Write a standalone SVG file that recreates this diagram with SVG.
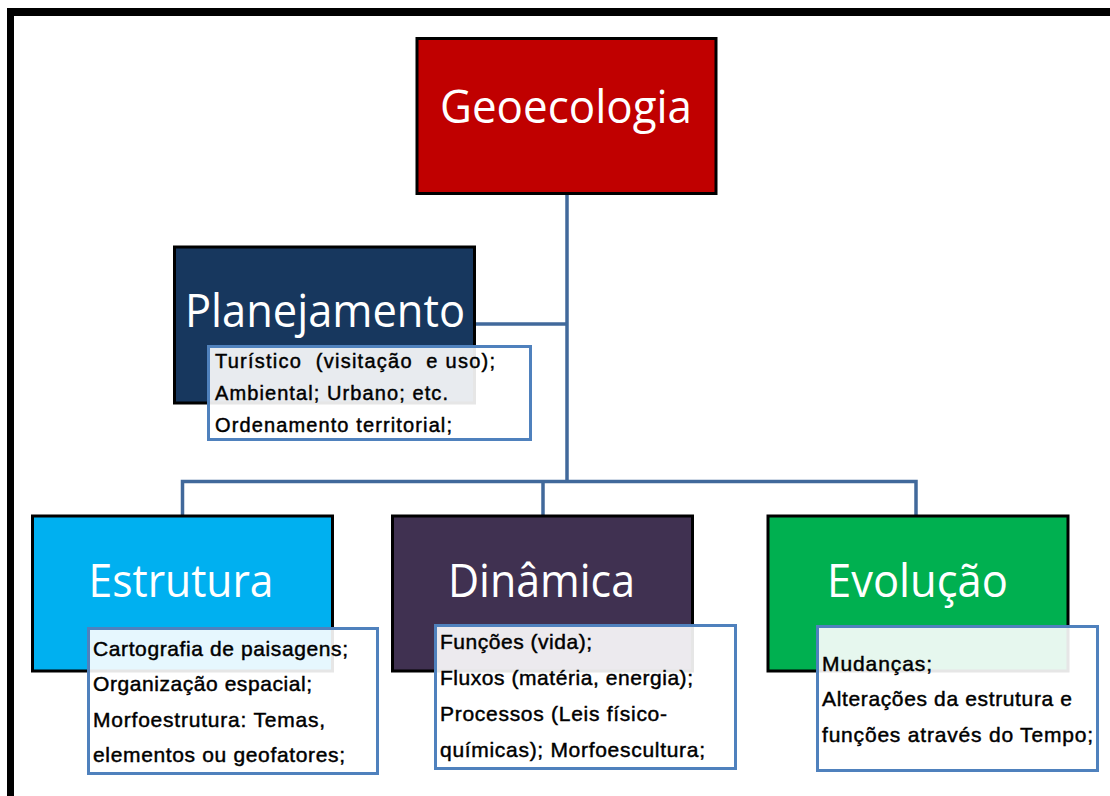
<svg xmlns="http://www.w3.org/2000/svg" width="1110" height="796" viewBox="0 0 1110 796">
<style>
.box{stroke:#000;stroke-width:3}
.title{font-family:"Open Sans","Noto Sans",sans-serif;font-size:45px;fill:#fff;text-anchor:middle}
.tb{fill:#fff;fill-opacity:0.9;stroke:#4F81BD;stroke-width:3}
.t{font-family:"Liberation Sans",Arial,sans-serif;font-size:21px;fill:#000;stroke:#000;stroke-width:0.45}
.s{font-size:20px}
.c{stroke:#41699B;stroke-width:3.5;fill:none}
</style>
<rect x="0" y="0" width="1110" height="796" fill="#fff"/>
<g id="frame">
<line x1="7" y1="12" x2="1110" y2="12" stroke="#000" stroke-width="8"/>
<line x1="10.5" y1="8" x2="10.5" y2="796" stroke="#000" stroke-width="7"/>
</g>
<g id="connectors">
<path class="c" d="M567 195 V483"/>
<path class="c" d="M476 324 H567"/>
<path class="c" d="M182.5 516 V481.5 H916 V516"/>
<path class="c" d="M543 481.5 V516"/>
</g>
<g id="geoecologia">
<rect class="box" x="417" y="38.5" width="299" height="155" fill="#C00000"/>
<text class="title" x="566" y="123" textLength="252" lengthAdjust="spacingAndGlyphs">Geoecologia</text>
</g>
<g id="planejamento">
<rect class="box" x="174.5" y="247" width="300" height="156" fill="#17375E"/>
<text class="title" x="325" y="327" textLength="280" lengthAdjust="spacingAndGlyphs">Planejamento</text>
<rect class="tb" x="208.5" y="346.5" width="322" height="93"/>
<text class="t s" x="215" y="368" textLength="280" lengthAdjust="spacing" xml:space="preserve">Turístico  (visitação  e uso);</text>
<text class="t s" x="215" y="400" textLength="233" lengthAdjust="spacing">Ambiental; Urbano; etc.</text>
<text class="t s" x="215" y="432" textLength="237" lengthAdjust="spacing">Ordenamento territorial;</text>
</g>
<g id="estrutura">
<rect class="box" x="32.5" y="516" width="300" height="155" fill="#00B0F0"/>
<text class="title" x="181" y="597" textLength="185" lengthAdjust="spacingAndGlyphs">Estrutura</text>
<rect class="tb" x="88.5" y="628.5" width="289" height="145"/>
<text class="t" x="93" y="656" textLength="255" lengthAdjust="spacing">Cartografia de paisagens;</text>
<text class="t" x="93" y="691" textLength="219" lengthAdjust="spacing">Organização espacial;</text>
<text class="t" x="93" y="727" textLength="232" lengthAdjust="spacing">Morfoestrutura: Temas,</text>
<text class="t" x="93" y="762" textLength="252" lengthAdjust="spacing">elementos ou geofatores;</text>
</g>
<g id="dinamica">
<rect class="box" x="392.5" y="516" width="300" height="155" fill="#403151"/>
<text class="title" x="541.5" y="597" textLength="187" lengthAdjust="spacingAndGlyphs">Dinâmica</text>
<rect class="tb" x="435.5" y="625.5" width="300" height="143"/>
<text class="t" x="440" y="649" textLength="152" lengthAdjust="spacing">Funções (vida);</text>
<text class="t" x="440" y="685" textLength="253" lengthAdjust="spacing">Fluxos (matéria, energia);</text>
<text class="t" x="440" y="721" textLength="227" lengthAdjust="spacing">Processos (Leis físico-</text>
<text class="t" x="440" y="757" textLength="265" lengthAdjust="spacing">químicas); Morfoescultura;</text>
</g>
<g id="evolucao">
<rect class="box" x="768" y="516" width="300" height="155" fill="#00B050"/>
<text class="title" x="917.5" y="597" textLength="181" lengthAdjust="spacingAndGlyphs">Evolução</text>
<rect class="tb" x="817.5" y="626.5" width="280" height="144"/>
<text class="t" x="822" y="671" textLength="110" lengthAdjust="spacing">Mudanças;</text>
<text class="t" x="822" y="706" textLength="250" lengthAdjust="spacing">Alterações da estrutura e</text>
<text class="t" x="822" y="742" textLength="271" lengthAdjust="spacing">funções através do Tempo;</text>
</g>
</svg>
